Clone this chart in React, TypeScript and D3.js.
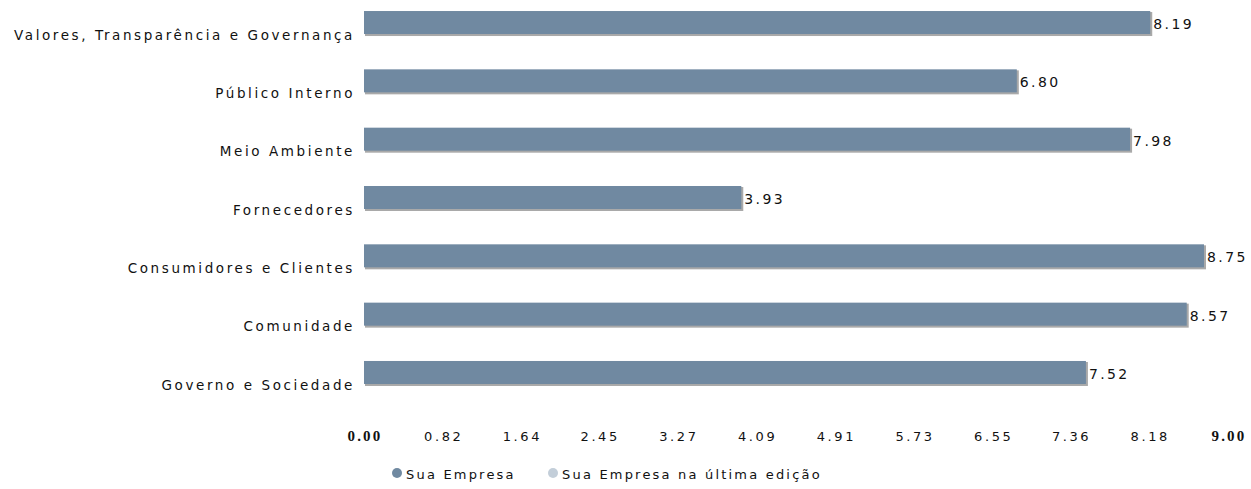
import React from 'react';
import * as d3 from 'd3';

const categories = [
  'Valores, Transparência e Governança',
  'Público Interno',
  'Meio Ambiente',
  'Fornecedores',
  'Consumidores e Clientes',
  'Comunidade',
  'Governo e Sociedade',
];
const suaEmpresa = [8.19, 6.8, 7.98, 3.93, 8.75, 8.57, 7.52];
const seriesNames = ['Sua Empresa', 'Sua Empresa na última edição'];
const seriesColors = ['#7089a1', '#c3ced9'];
const tickLabels = ['0.00', '0.82', '1.64', '2.45', '3.27', '4.09', '4.91', '5.73', '6.55', '7.36', '8.18', '9.00'];

const W = 1251;
const H = 489;
const font = '"DejaVu Sans", Verdana, sans-serif';

const App: React.FC = () => {
  const x = d3.scaleLinear().domain([0, 9]).range([364, 1228]);
  const y = d3.scaleBand<string>()
    .domain(categories)
    .range([0, 420])
    .paddingInner(0.177)
    .paddingOuter(0.189);
  const ySub = d3.scaleBand<string>()
    .domain(seriesNames)
    .range([0, y.bandwidth()]);

  const ticks = tickLabels.map((t) => ({ label: t, v: +t }));
  const legendX = [397, 553];

  return (
    <svg width={W} height={H} style={{ position: 'absolute', left: 0, top: 0, background: '#fff' }}>
      {categories.map((c, i) => {
        const y0 = (y(c) ?? 0) + (ySub(seriesNames[0]) ?? 0);
        const bh = ySub.bandwidth();
        const xe = x(suaEmpresa[i]);
        return (
          <g key={c}>
            <rect x={x(0) + 1} y={y0 + 1} width={xe - x(0) + 1} height={bh} fill="#a9a9a9" />
            <rect x={x(0)} y={y0} width={xe - x(0)} height={bh - 1} fill={seriesColors[0]} />
            <text x={xe + 3} y={y0 + bh / 2 + 1} dy="0.35em" fontFamily={font} fontSize={14}
              letterSpacing={2.4} fill="#111">{suaEmpresa[i].toFixed(2)}</text>
            <text x={355} y={(y(c) ?? 0) + y.bandwidth() / 2} dy="0.35em" textAnchor="end"
              fontFamily={font} fontSize={13.5} letterSpacing={2.6} fill="#111">{c}</text>
          </g>
        );
      })}
      {ticks.map((t, i) => {
        const bold = i === 0 || i === ticks.length - 1;
        return (
          <text key={t.label} x={x(t.v) + 1} y={436} dy="0.35em" textAnchor="middle"
            fontFamily={bold ? '"Liberation Serif", serif' : font}
            fontWeight={bold ? 'bold' : 'normal'} fontSize={bold ? 15 : 13}
            letterSpacing={bold ? 2.2 : 2.6} fill="#111">{t.label}</text>
        );
      })}
      {seriesNames.map((s, i) => (
        <g key={s}>
          <circle cx={legendX[i]} cy={473} r={5} fill={seriesColors[i]} />
          <text x={legendX[i] + 9} y={474} dy="0.35em" fontFamily={font} fontSize={13}
            letterSpacing={2.2} fill="#111">{s}</text>
        </g>
      ))}
    </svg>
  );
};

export default App;
